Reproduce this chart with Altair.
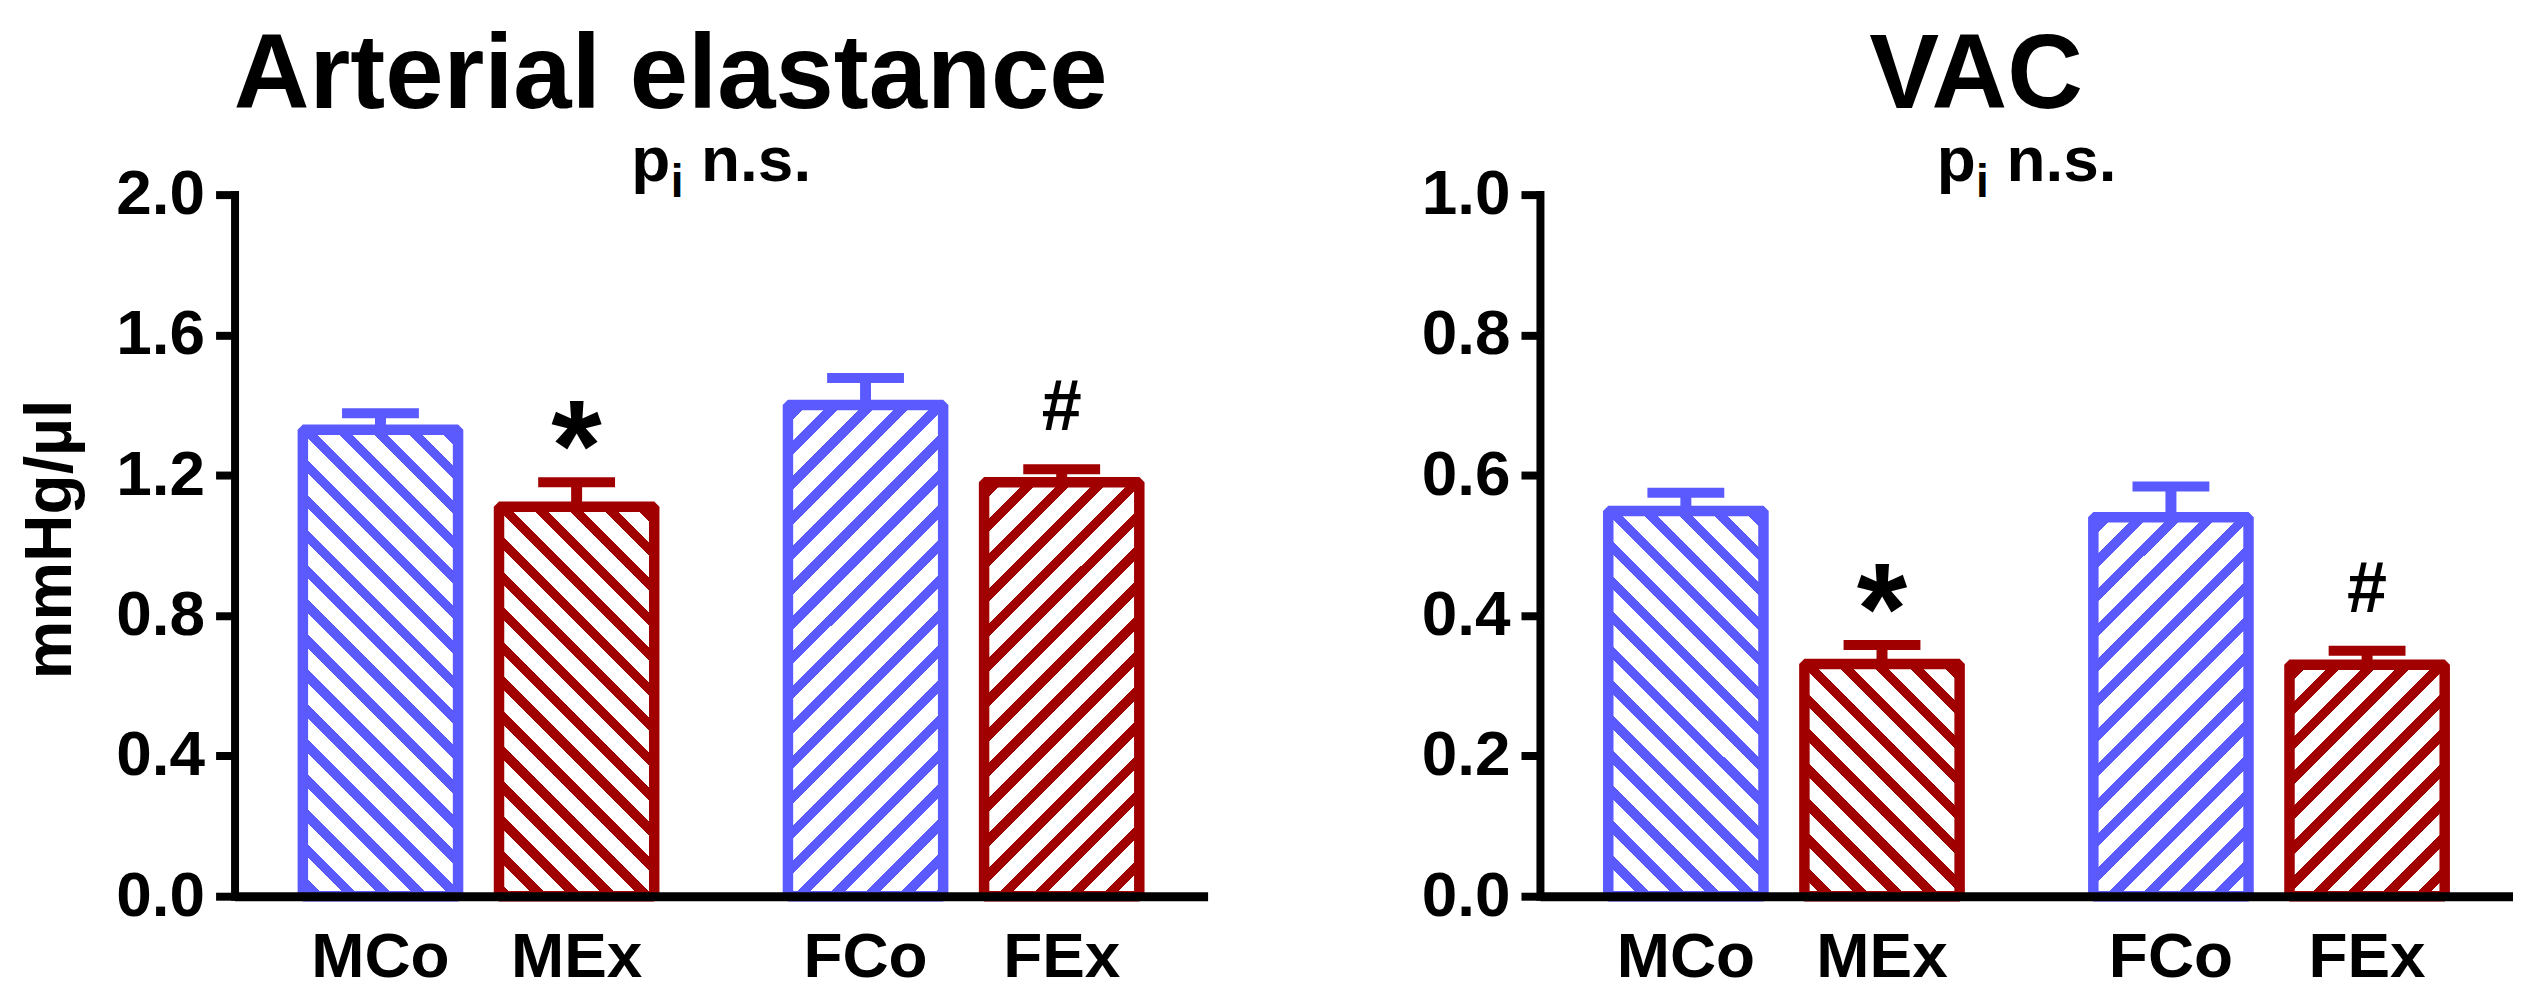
import altair as alt
import pandas as pd

# ---------------- data ----------------
groups = ["MCo", "MEx", "FCo", "FEx"]
sex = ["M", "M", "F", "F"]
cond = ["Co", "Ex", "Co", "Ex"]
signif = ["", "*", "", "#"]

ea_mean = [1.33, 1.11, 1.40, 1.18]
ea_sem = [0.047, 0.070, 0.077, 0.037]

vac_mean = [0.549, 0.331, 0.540, 0.330]
vac_sem = [0.026, 0.027, 0.044, 0.020]

panel_titles = ["Arterial elastance", "VAC"]
y_titles = ["mmHg/µl", ""]
y_max = [2.0, 1.0]
y_ticks = [[0.0, 0.4, 0.8, 1.2, 1.6, 2.0], [0.0, 0.2, 0.4, 0.6, 0.8, 1.0]]

# ---------------- style ----------------
BLUE = "#5A5AFF"
RED = "#A00000"
bar_colors = [BLUE, RED, BLUE, RED]
hatch_dir = ["back", "back", "fwd", "fwd"]
FONT = "Liberation Sans"
PW, PH = 975, 703
BAR_W = 155.5
STROKE = 10.5


def hatch_gradient(color, H, direction, W=BAR_W, period=35.0, thick=13.5):
    """Diagonal 45-degree stripes built from a hard-stop linear gradient."""
    L = W + H
    k = L / (W * W + H * H)
    if direction == "back":
        x1, y1, x2, y2 = 1.0, 0.0, 1.0 - W * k, H * k
    else:
        x1, y1, x2, y2 = 0.0, 0.0, W * k, H * k
    stops = [alt.GradientStop(offset=0.0, color="white")]
    s = 6.0
    while s < L:
        a = s / L
        b = min((s + thick) / L, 1.0)
        stops += [
            alt.GradientStop(offset=a, color="white"),
            alt.GradientStop(offset=a, color=color),
            alt.GradientStop(offset=b, color=color),
            alt.GradientStop(offset=b, color="white"),
        ]
        s += period
    stops.append(alt.GradientStop(offset=1.0, color="white"))
    return alt.LinearGradient(gradient="linear", stops=stops, x1=x1, y1=y1, x2=x2, y2=y2)


def panel(idx, means, sems):
    ymax = y_max[idx]
    df = pd.DataFrame({
        "grp": groups, "sex": sex, "cond": cond,
        "mean": means, "sem": sems,
        "top": [m + s for m, s in zip(means, sems)],
        "sig": signif,
    })
    base = alt.Chart(df)

    xenc = alt.X("sex:N", sort=["M", "F"],
                 scale=alt.Scale(paddingInner=0.16, paddingOuter=0.083),
                 axis=alt.Axis(labels=False, ticks=False, title=None, grid=False,
                               domainWidth=9, domainColor="black", zindex=1))
    xoff = alt.XOffset("cond:N", sort=["Co", "Ex"],
                       scale=alt.Scale(paddingInner=0.2087, paddingOuter=0.143))
    yscale = alt.Scale(domain=[0, ymax], nice=False, zero=True)
    ytitle = y_titles[idx]
    axis_kw = dict(values=y_ticks[idx], format=".1f", grid=False,
                   labelFont=FONT, labelFontSize=64, labelFontWeight="bold",
                   labelColor="black", labelPadding=11,
                   domainColor="black", domainWidth=8, domainCap="square",
                   tickColor="black", tickWidth=8, tickSize=19, zindex=1)
    if ytitle:
        axis_kw.update(title=ytitle, titleFont=FONT, titleFontSize=66, titleFontWeight="bold",
                       titleColor="black", titleAngle=270, titleAlign="center",
                       titleBaseline="alphabetic", titleX=-164, titleY=345)
    else:
        axis_kw.update(title=None)
    yenc = alt.Y("mean:Q", scale=yscale, axis=alt.Axis(**axis_kw))

    layers = []
    for i, g in enumerate(groups):
        H = means[i] / ymax * PH
        layers.append(
            base.transform_filter(alt.datum.grp == g)
            .mark_bar(fill=hatch_gradient(bar_colors[i], H, hatch_dir[i]),
                      stroke=bar_colors[i], strokeWidth=STROKE, strokeJoin="bevel")
            .encode(x=xenc, xOffset=xoff, y=yenc)
        )

    color_scale = alt.Scale(domain=groups, range=bar_colors)
    stem = base.mark_rule(strokeWidth=11).encode(
        x=xenc, xOffset=xoff, y=alt.Y("mean:Q", scale=yscale), y2="top:Q",
        color=alt.Color("grp:N", scale=color_scale, legend=None))
    cap = base.mark_tick(thickness=10, size=77, opacity=1).encode(
        x=xenc, xOffset=xoff, y=alt.Y("top:Q", scale=yscale),
        color=alt.Color("grp:N", scale=color_scale, legend=None))

    star = base.transform_filter(alt.datum.sig == "*").mark_text(
        font=FONT, fontSize=130, fontWeight="bold", color="black",
        baseline="middle", align="center", dy=-30).encode(
        x=xenc, xOffset=xoff, y=alt.Y("top:Q", scale=yscale), text="sig:N")
    hash_ = base.transform_filter(alt.datum.sig == "#").mark_text(
        font=FONT, fontSize=72, fontWeight="bold", color="black",
        baseline="middle", align="center", dy=-61).encode(
        x=xenc, xOffset=xoff, y=alt.Y("top:Q", scale=yscale), text="sig:N")

    xlab = base.mark_text(font=FONT, fontSize=64, fontWeight="bold", color="black",
                          baseline="alphabetic", align="center", dy=81).encode(
        x=xenc, xOffset=xoff, y=alt.value(PH), text="grp:N")

    tdf = pd.DataFrame({"t": [panel_titles[idx]], "p": ["p"], "i": ["i"], "ns": ["n.s."]})
    tbase = alt.Chart(tdf)
    title = tbase.mark_text(font=FONT, fontSize=105, fontWeight="bold", color="black",
                            align="center", baseline="alphabetic").encode(
        x=alt.value(437), y=alt.value(-87), text="t:N")
    p_txt = tbase.mark_text(font=FONT, fontSize=64, fontWeight="bold", color="black",
                            align="left", baseline="alphabetic").encode(
        x=alt.value(397.5), y=alt.value(-13.7), text="p:N")
    i_txt = tbase.mark_text(font=FONT, fontSize=46, fontWeight="bold", color="black",
                            align="left", baseline="alphabetic").encode(
        x=alt.value(437), y=alt.value(2), text="i:N")
    ns_txt = tbase.mark_text(font=FONT, fontSize=64, fontWeight="bold", color="black",
                             align="left", baseline="alphabetic").encode(
        x=alt.value(467.5), y=alt.value(-13.7), text="ns:N")

    return alt.layer(*layers, stem, cap, star, hash_, xlab, title, p_txt, i_txt, ns_txt).properties(
        width=PW, height=PH)


left = panel(0, ea_mean, ea_sem)
right = panel(1, vac_mean, vac_sem)

chart = alt.hconcat(left, right, spacing=333, bounds="flush").properties(
    padding={"left": 10, "top": 15, "right": 0, "bottom": 0},
    background="white",
).configure_view(stroke=None)

chart.save("out.html", embed_options={"renderer": "svg", "actions": False})
